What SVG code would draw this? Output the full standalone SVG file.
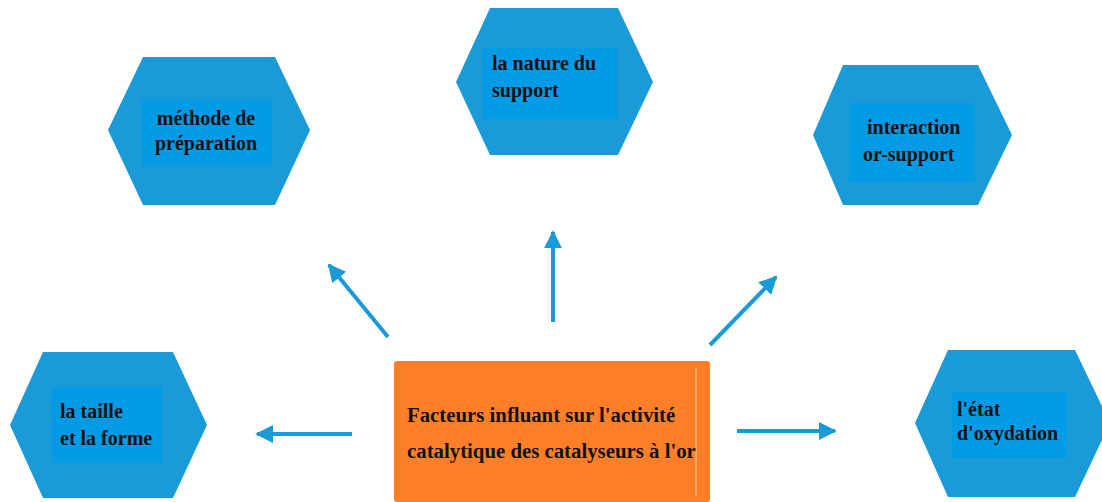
<svg xmlns="http://www.w3.org/2000/svg" width="1102" height="502" viewBox="0 0 1102 502">
<defs>
<style>
.hex{fill:#1a9ad6;}
.inner{fill:#039be5;}
.t{font-family:"Liberation Serif","Times New Roman",serif;font-weight:bold;font-size:20px;fill:#111;}
.tc{font-size:20.8px;}
.conn{stroke:#1a9ad6;stroke-width:4;fill:none;}
</style>
<marker id="ah" viewBox="0 0 10 10" refX="9" refY="5" markerWidth="4.5" markerHeight="4.5" markerUnits="strokeWidth" orient="auto">
<path d="M0,0 L10,5 L0,10 z" fill="#1a9ad6"/>
</marker>
</defs>
<rect width="1102" height="502" fill="#ffffff"/>

<g id="connectors">
<line class="conn" x1="388" y1="337" x2="329" y2="265" marker-end="url(#ah)"/>
<line class="conn" x1="553" y1="322" x2="553" y2="232" marker-end="url(#ah)"/>
<line class="conn" x1="710" y1="345" x2="776" y2="277" marker-end="url(#ah)"/>
<line class="conn" x1="352" y1="434" x2="257" y2="434" marker-end="url(#ah)"/>
<line class="conn" x1="737" y1="431" x2="835" y2="431" marker-end="url(#ah)"/>
</g>

<g id="node-methode">
<polygon class="hex" points="143,57 275,57 310,130 275,205 143,205 108,130"/>
<rect class="inner" x="142" y="100" width="130" height="65"/>
<text class="t" x="206" y="125" text-anchor="middle">méthode de</text>
<text class="t" x="206" y="150" text-anchor="middle">préparation</text>
</g>

<g id="node-nature">
<polygon class="hex" points="490,8 618,8 653,82 618,155 490,155 456,82"/>
<rect class="inner" x="483" y="48" width="134" height="71"/>
<text class="t" x="492" y="70">la nature du</text>
<text class="t" x="492" y="97">support</text>
</g>

<g id="node-interaction">
<polygon class="hex" points="843,65 978,65 1012,135 978,205 843,205 813,135"/>
<rect class="inner" x="849" y="103" width="126" height="79"/>
<text class="t" x="867" y="134">interaction</text>
<text class="t" x="863" y="161">or-support</text>
</g>

<g id="node-taille">
<polygon class="hex" points="43,352 173,352 207,425 173,498 43,498 10,425"/>
<rect class="inner" x="52" y="387" width="110" height="76"/>
<text class="t" x="60" y="418">la taille</text>
<text class="t" x="60" y="445">et la forme</text>
</g>

<g id="node-etat">
<polygon class="hex" points="948,350 1075,350 1110,423 1075,497 948,497 915,423"/>
<rect class="inner" x="952" y="392" width="115" height="66"/>
<text class="t" x="957" y="416">l'état</text>
<text class="t" x="957" y="440">d'oxydation</text>
</g>

<g id="node-center">
<rect x="394" y="361" width="316" height="141" rx="3" fill="#fe7f27"/>
<line x1="696" y1="368" x2="696" y2="496" stroke="#ffffff" stroke-width="1" opacity="0.6"/>
<text class="t tc" x="407" y="422">Facteurs influant sur l'activité</text>
<text class="t tc" x="407" y="458">catalytique des catalyseurs à l'or</text>
</g>
</svg>
